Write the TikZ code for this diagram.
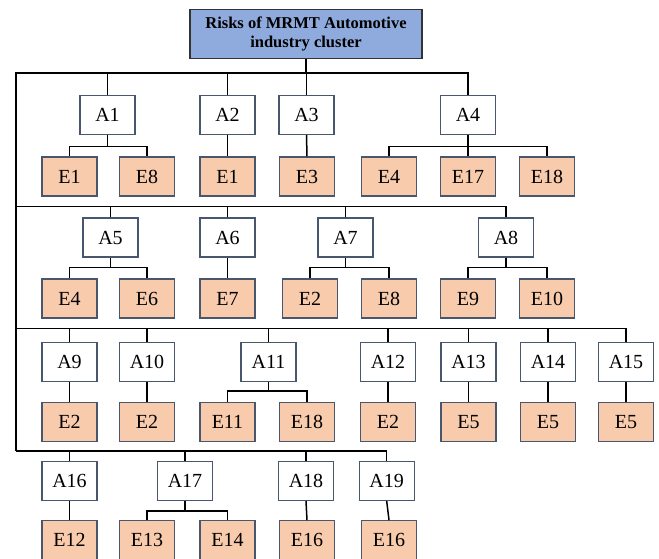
\documentclass[tikz,border=0pt]{standalone}
\usepackage{fontspec}
\setmainfont{Liberation Serif}
\definecolor{titlefill}{RGB}{143,170,220}
\definecolor{efill}{RGB}{248,203,173}
\definecolor{boxline}{RGB}{72,86,110}
\tikzset{
  base/.style={draw=boxline, line width=1.2pt, minimum width=55pt, minimum height=39pt, inner sep=0pt, font=\fontsize{20}{22}\selectfont},
  abox/.style={base, fill=white},
  ebox/.style={base, fill=efill},
  titlebox/.style={draw=black!80, line width=1.2pt, fill=titlefill, minimum width=232pt, minimum height=49.5pt, align=center, inner sep=0pt, font=\fontsize{16.5}{19}\selectfont\bfseries},
  conn/.style={draw=black, line width=1.5pt}
}
\begin{document}
\begin{tikzpicture}[x=1pt,y=-1pt]
\useasboundingbox (0,0) rectangle (659,558);
\clip (0,0) rectangle (659,558);
% title
\node[titlebox] (t) at (306,34) {Risks of MRMT Automotive\\industry cluster};
% row 1
\node[abox] (a1) at (107.5,115) {A1};
\node[abox] (a2) at (227.5,115) {A2};
\node[abox] (a3) at (306.5,115) {A3};
\node[abox] (a4) at (468,115) {A4};
\node[ebox] (r1e1) at (69.5,176.5) {E1};
\node[ebox] (r1e8) at (147,176.5) {E8};
\node[ebox] (r1e1b) at (227.5,176.5) {E1};
\node[ebox] (r1e3) at (307,176.5) {E3};
\node[ebox] (r1e4) at (389,176.5) {E4};
\node[ebox] (r1e17) at (468,176.5) {E17};
\node[ebox] (r1e18) at (547,176.5) {E18};
% row 2
\node[abox] (a5) at (110.5,237.5) {A5};
\node[abox] (a6) at (227.5,237.5) {A6};
\node[abox] (a7) at (345.5,237.5) {A7};
\node[abox] (a8) at (506,237.5) {A8};
\node[ebox] (r2e4) at (69.5,298.5) {E4};
\node[ebox] (r2e6) at (147,298.5) {E6};
\node[ebox] (r2e7) at (227.5,298.5) {E7};
\node[ebox] (r2e2) at (310,298.5) {E2};
\node[ebox] (r2e8) at (389,298.5) {E8};
\node[ebox] (r2e9) at (468,298.5) {E9};
\node[ebox] (r2e10) at (547,298.5) {E10};
% row 3
\node[abox] (a9) at (69.5,362) {A9};
\node[abox] (a10) at (147,362) {A10};
\node[abox] (a11) at (268.5,362) {A11};
\node[abox] (a12) at (388,362) {A12};
\node[abox] (a13) at (468.5,362) {A13};
\node[abox] (a14) at (548,362) {A14};
\node[abox] (a15) at (626,362) {A15};
\node[ebox] (r3e2a) at (69.5,421.7) {E2};
\node[ebox] (r3e2b) at (147,421.7) {E2};
\node[ebox] (r3e11) at (227.5,421.7) {E11};
\node[ebox] (r3e18) at (307,421.7) {E18};
\node[ebox] (r3e2c) at (388,421.7) {E2};
\node[ebox] (r3e5a) at (468.5,421.7) {E5};
\node[ebox] (r3e5b) at (548,421.7) {E5};
\node[ebox] (r3e5c) at (626,421.7) {E5};
% row 4
\node[abox] (a16) at (69.5,481) {A16};
\node[abox] (a17) at (185,481) {A17};
\node[abox] (a18) at (306,481) {A18};
\node[abox] (a19) at (386.7,481) {A19};
\node[ebox] (r4e12) at (69.5,540.2) {E12};
\node[ebox] (r4e13) at (147,540.2) {E13};
\node[ebox] (r4e14) at (227.5,540.2) {E14};
\node[ebox] (r4e16a) at (307,540.2) {E16};
\node[ebox] (r4e16b) at (389,540.2) {E16};
% main buses
\coordinate (b1) at (16,73);
\coordinate (b2) at (16,206.7);
\coordinate (b3) at (16,328.3);
\coordinate (b4) at (16,451);
\draw[conn] (t.south) -- (t.south |- b1);
\draw[conn] (b4) -- (b1) -| (a4.north);
\draw[conn] (a1.north) -- (a1.north |- b1);
\draw[conn] (a2.north) -- (a2.north |- b1);
\draw[conn] (a3.north) -- (a3.north |- b1);
\draw[conn] (b2) -| (a8.north);
\draw[conn] (a5.north) -- (a5.north |- b2);
\draw[conn] (a6.north) -- (a6.north |- b2);
\draw[conn] (a7.north) -- (a7.north |- b2);
\draw[conn] (b3) -| (a15.north);
\foreach \n in {a9,a10,a11,a12,a13,a14}
  \draw[conn] (\n.north) -- (\n.north |- b3);
\draw[conn] (b4) -| (a19.north);
\foreach \n in {a16,a17,a18}
  \draw[conn] (\n.north) -- (\n.north |- b4);
% row 1 children
\draw[conn] (a1.south) -- ++(0,11.5) coordinate (m1);
\draw[conn] (r1e1.north) |- (m1) -| (r1e8.north);
\draw[conn] (a2.south) -- (r1e1b.north);
\draw[conn] (a3.south) -- (r1e3.north);
\draw[conn] (a4.south) -- (r1e17.north);
\draw[conn] (a4.south) ++(0,11.5) coordinate (m4);
\draw[conn] (r1e4.north) |- (m4) -| (r1e18.north);
% row 2 children
\draw[conn] (a5.south) -- ++(0,10) coordinate (m5);
\draw[conn] (r2e4.north) |- (m5) -| (r2e6.north);
\draw[conn] (a6.south) -- (r2e7.north);
\draw[conn] (a7.south) -- ++(0,10) coordinate (m7);
\draw[conn] (r2e2.north) |- (m7) -| (r2e8.north);
\draw[conn] (a8.south) -- ++(0,10) coordinate (m8);
\draw[conn] (r2e9.north) |- (m8) -| (r2e10.north);
% row 3 children
\draw[conn] (a9.south) -- (r3e2a.north);
\draw[conn] (a10.south) -- (r3e2b.north);
\draw[conn] (a11.south) -- ++(0,9) coordinate (m11);
\draw[conn] (r3e11.north) |- (m11) -| (r3e18.north);
\draw[conn] (a12.south) -- (r3e2c.north);
\draw[conn] (a13.south) -- (r3e5a.north);
\draw[conn] (a14.south) -- (r3e5b.north);
\draw[conn] (a15.south) -- (r3e5c.north);
% row 4 children
\draw[conn] (a16.south) -- (r4e12.north);
\draw[conn] (a17.south) -- ++(0,10) coordinate (m17);
\draw[conn] (r4e13.north) |- (m17) -| (r4e14.north);
\draw[conn] (a18.south) -- (r4e16a.north);
\draw[conn] (a19.south) -- (r4e16b.north);
\end{tikzpicture}
\end{document}
